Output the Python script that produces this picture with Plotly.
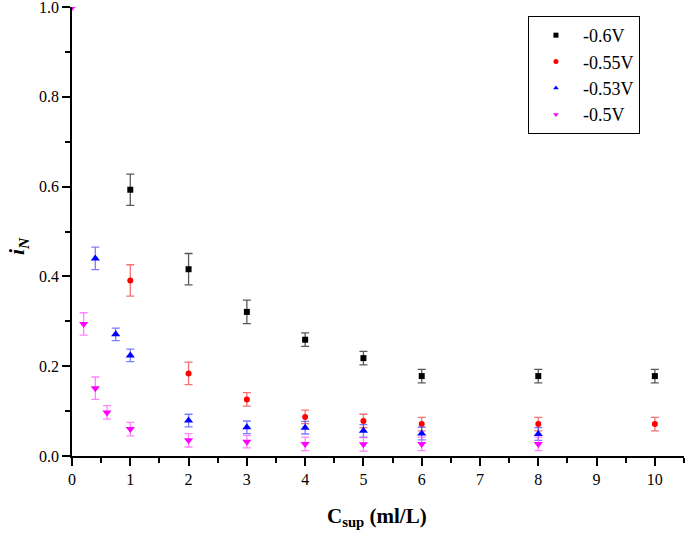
import plotly.graph_objects as go

# -0.6V
x_06 = [1, 2, 3, 4, 5, 6, 8, 10]
y_06 = [0.593, 0.416, 0.321, 0.259, 0.218, 0.178, 0.178, 0.178]
e_06 = [0.035, 0.035, 0.026, 0.015, 0.015, 0.015, 0.015, 0.015]

# -0.55V
x_055 = [1, 2, 3, 4, 5, 6, 8, 10]
y_055 = [0.391, 0.184, 0.126, 0.087, 0.078, 0.071, 0.071, 0.071]
e_055 = [0.035, 0.025, 0.015, 0.015, 0.015, 0.015, 0.015, 0.015]

# -0.53V
x_053 = [0.4, 0.75, 1, 2, 3, 4, 5, 6, 8]
y_053 = [0.440, 0.271, 0.224, 0.079, 0.064, 0.063, 0.056, 0.050, 0.049]
e_053 = [0.025, 0.014, 0.014, 0.014, 0.014, 0.014, 0.014, 0.014, 0.014]

# -0.5V
x_05 = [0, 0.2, 0.4, 0.6, 1, 2, 3, 4, 5, 6, 8]
y_05 = [1.0, 0.294, 0.151, 0.097, 0.060, 0.035, 0.032, 0.027, 0.026, 0.027, 0.027]
e_05 = [0, 0.025, 0.025, 0.015, 0.015, 0.015, 0.014, 0.015, 0.015, 0.015, 0.015]

series = [
    ("-0.6V", x_06, y_06, e_06, "black", "rgba(60,60,60,0.85)", "square", 6),
    ("-0.55V", x_055, y_055, e_055, "red", "rgba(240,80,80,0.8)", "circle", 6),
    ("-0.53V", x_053, y_053, e_053, "blue", "rgba(80,80,255,0.75)", "triangle-up", 8),
    ("-0.5V", x_05, y_05, e_05, "magenta", "rgba(255,80,255,0.7)", "triangle-down", 8),
]

font_family = "Liberation Serif, Times New Roman, serif"

fig = go.Figure()
for name, xs, ys, es, col, ecol, sym, sz in series:
    # 数据点（带误差棒）
    fig.add_trace(go.Scatter(
        x=xs, y=ys, mode="markers", name=name, showlegend=False,
        marker=dict(color=col, symbol=sym, size=sz, line=dict(width=0)),
        error_y=dict(type="data", array=es, visible=True,
                     color=ecol, thickness=1.3, width=4),
    ))
    # 图例用的小标记
    fig.add_trace(go.Scatter(
        x=[None], y=[None], mode="markers", name=name, showlegend=True,
        marker=dict(color=col, symbol=sym, size=5, line=dict(width=0)),
    ))

fig.update_layout(
    width=685, height=534,
    plot_bgcolor="white", paper_bgcolor="white",
    font=dict(family=font_family, size=16, color="black"),
    margin=dict(l=72, r=1, t=7, b=78, autoexpand=False),
    showlegend=True,
    legend=dict(
        x=0.745, y=0.98, xanchor="left", yanchor="top",
        bordercolor="black", borderwidth=1, bgcolor="white",
        font=dict(family=font_family, size=18),
        itemsizing="trace", tracegroupgap=0, itemwidth=44,
    ),
    annotations=[
        dict(
            text="<b><i>i</i></b><b><i><sub>N</sub></i></b>",
            xref="paper", yref="paper", x=-0.088, y=0.468,
            xanchor="center", yanchor="middle", textangle=-90,
            showarrow=False, font=dict(family=font_family, size=22),
        ),
        dict(
            text="<b>C<sub>sup</sub> (ml/L)</b>",
            xref="paper", yref="paper", x=0.499, y=-0.103,
            xanchor="center", yanchor="top",
            showarrow=False, font=dict(family=font_family, size=21),
        ),
    ],
)

fig.update_xaxes(
    range=[0, 10.5], dtick=1, tick0=0, automargin=False,
    showline=True, linecolor="black", linewidth=1.5,
    showgrid=False, zeroline=False, mirror=False,
    ticks="outside", ticklen=8, tickwidth=1.5, tickcolor="black",
    ticklabeloverflow="allow",
    minor=dict(dtick=0.5, ticks="outside", ticklen=5, tickwidth=1.5, tickcolor="black"),
)
fig.update_yaxes(
    range=[0, 1.0], dtick=0.2, tick0=0, tickformat=".1f", automargin=False,
    showline=True, linecolor="black", linewidth=1.5,
    showgrid=False, zeroline=False, mirror=False,
    ticks="outside", ticklen=8, tickwidth=1.5, tickcolor="black",
    ticklabeloverflow="allow",
    minor=dict(dtick=0.1, ticks="outside", ticklen=5, tickwidth=1.5, tickcolor="black"),
)

# 去掉页面 body 默认的 8px 边距，并隐藏工具栏
fig.write_html("out.html", config={"displayModeBar": False},
               post_script="document.body.style.margin='0px';")
